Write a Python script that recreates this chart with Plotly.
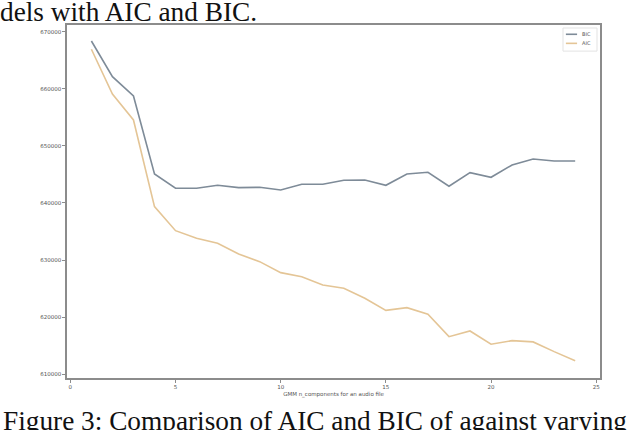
import plotly.graph_objects as go

n_components = list(range(1, 25))
bic = [668370, 662120, 658740, 645080, 642580, 642580, 643100, 642690, 642750, 642280,
       643280, 643280, 643980, 644030, 643100, 645080, 645380, 642930, 645310, 644500,
       646660, 647710, 647360, 647360]
aic = [666920, 659090, 654540, 639360, 635150, 633820, 632950, 631070, 629730, 627800,
       627100, 625650, 625070, 623320, 621200, 621670, 620510, 616590, 617590, 615260,
       615890, 615670, 613970, 612390]
y_ticks = [610000, 620000, 630000, 640000, 650000, 660000, 670000]
x_ticks = [0, 5, 10, 15, 20, 25]
series_names = ["BIC", "AIC"]
series_colors = ["#7e8b98", "#e4c596"]

fig = go.Figure()
for name, vals, col in zip(series_names, [bic, aic], series_colors):
    fig.add_trace(go.Scatter(x=n_components, y=vals, mode="lines", name=name,
                             line=dict(color=col, width=1.6), showlegend=False))

tick_font = dict(family="DejaVu Sans", size=5.5, color="#555555")
axis_common = dict(showgrid=False, zeroline=False, showline=True, mirror=True,
                   linecolor="#8c8c8c", linewidth=1.5, ticks="outside", ticklen=3,
                   tickcolor="#8c8c8c", tickfont=tick_font)

fig.update_xaxes(range=[-0.16, 25.18], tickvals=x_ticks,
                 title=dict(text="GMM n_components for an audio file", font=tick_font, standoff=3),
                 **axis_common)
fig.update_yaxes(range=[609350, 671170], tickvals=y_ticks, tickformat="d", **axis_common)

fig.update_layout(
    width=638, height=430,
    margin=dict(l=67, r=38, t=25, b=52, autoexpand=False),
    plot_bgcolor="white", paper_bgcolor="white",
    showlegend=False,
)

# custom compact legend (matplotlib style)
fig.add_shape(type="rect", xref="paper", yref="paper", x0=0.9306, x1=0.9944, y0=0.926, y1=0.9915,
              line=dict(color="#e3e3e3", width=1), fillcolor="white", layer="above")
for i, (name, col) in enumerate(zip(series_names, series_colors)):
    yy = 0.9737 - i * 0.0257
    fig.add_shape(type="line", xref="paper", yref="paper", x0=0.936, x1=0.957, y0=yy, y1=yy,
                  line=dict(color=col, width=1.6), layer="above")
    fig.add_annotation(text=name, xref="paper", yref="paper", x=0.9625, y=yy,
                       xanchor="left", yanchor="middle", showarrow=False,
                       font=dict(family="DejaVu Sans", size=5, color="#555555"))

fig.add_annotation(text="dels with AIC and BIC.", xref="paper", yref="paper",
                   x=0, y=1, xanchor="left", yanchor="middle", xshift=-69, yshift=13,
                   showarrow=False, font=dict(family="Liberation Serif", size=27.3, color="#111111"))
fig.add_annotation(text="Figure 3: Comparison of AIC and BIC of against varying", xref="paper", yref="paper",
                   x=0, y=0, xanchor="left", yanchor="middle", xshift=-66, yshift=-43,
                   showarrow=False, font=dict(family="Liberation Serif", size=27.3, color="#111111"))

fig.write_html("out.html", config={"displayModeBar": False},
               post_script="document.body.style.margin='0px';document.body.style.padding='0px';")
